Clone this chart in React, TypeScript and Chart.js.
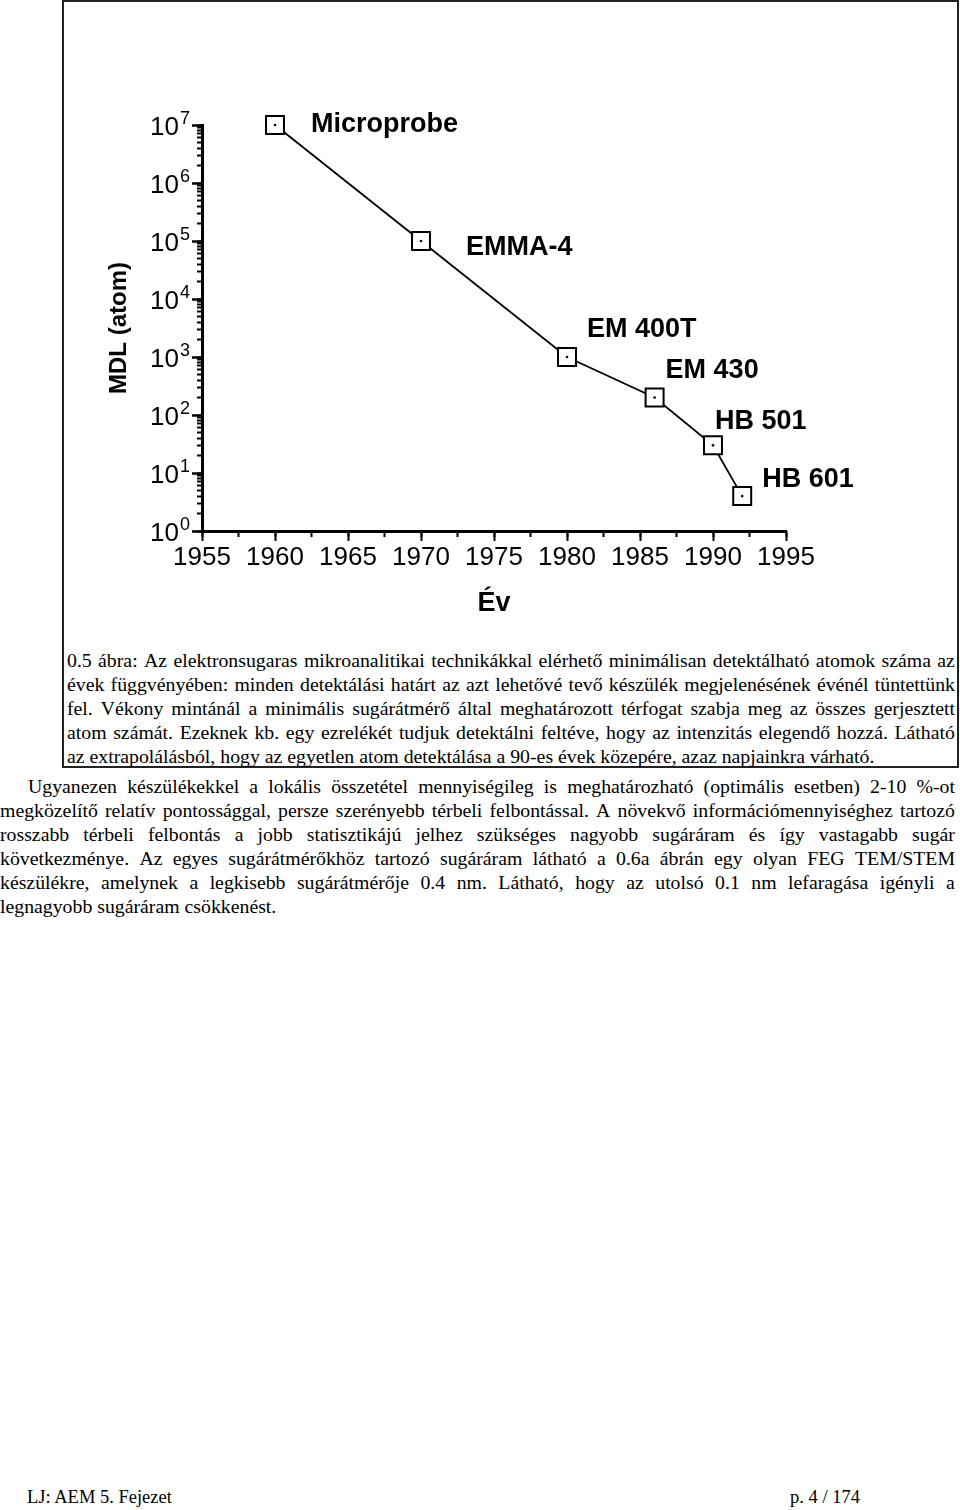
import React, { useEffect, useRef } from "react";
import { Chart, registerables } from "chart.js";

Chart.register(...registerables);

// ---------------- data ----------------
const instruments = ["Microprobe", "EMMA-4", "EM 400T", "EM 430", "HB 501", "HB 601"];
const introYears = [1960, 1970, 1980, 1986, 1990, 1992];
const mdlAtoms = [1e7, 1e5, 1e3, 200, 30, 4];
const xTickYears = [1955, 1960, 1965, 1970, 1975, 1980, 1985, 1990, 1995];
const yTickExponents = [0, 1, 2, 3, 4, 5, 6, 7];
const xAxisTitle = "Év";
const yAxisTitle = "MDL (atom)";

const captionLines = [
  "0.5 ábra: Az elektronsugaras mikroanalitikai technikákkal elérhető minimálisan detektálható atomok száma az",
  "évek függvényében: minden detektálási határt az azt lehetővé tevő készülék megjelenésének événél tüntettünk",
  "fel. Vékony mintánál a minimális sugárátmérő által meghatározott térfogat szabja meg az összes gerjesztett",
  "atom számát. Ezeknek kb. egy ezrelékét tudjuk detektálni feltéve, hogy az intenzitás elegendő hozzá. Látható",
  "az extrapolálásból, hogy az egyetlen atom detektálása a 90-es évek közepére, azaz napjainkra várható.",
];
const bodyLines = [
  "Ugyanezen készülékekkel a lokális összetétel mennyiségileg is meghatározható (optimális esetben) 2-10 %-ot",
  "megközelítő relatív pontossággal, persze szerényebb térbeli felbontással. A növekvő információmennyiséghez tartozó",
  "rosszabb térbeli felbontás a jobb statisztikájú jelhez szükséges nagyobb sugáráram és így vastagabb sugár",
  "következménye. Az egyes sugárátmérőkhöz tartozó sugáráram látható a 0.6a ábrán egy olyan FEG TEM/STEM",
  "készülékre, amelynek a legkisebb sugárátmérője 0.4 nm. Látható, hogy az utolsó 0.1 nm lefaragása igényli a",
  "legnagyobb sugáráram csökkenést.",
];
const footerLeft = "LJ: AEM 5. Fejezet";
const footerRight = "p. 4 / 174";

// label placement relative to each marker (pixels): [dx to text start, dy to baseline]
const LABEL_OFFSETS: [number, number][] = [
  [36, 7],
  [45, 14],
  [20, -20],
  [11, -20],
  [2, -16],
  [20, -9],
];

const SANS = "'Liberation Sans', Arial, Helvetica, sans-serif";
const SERIF = "'Liberation Serif', 'Times New Roman', serif";

function JustifiedLine({ text, justify, indent }: { text: string; justify: boolean; indent?: number }) {
  if (!justify) {
    return <div style={{ whiteSpace: "nowrap", paddingLeft: indent || 0 }}>{text}</div>;
  }
  const words = text.split(" ");
  return (
    <div style={{ display: "flex", justifyContent: "space-between", paddingLeft: indent || 0, whiteSpace: "nowrap" }}>
      {words.map((w, i) => (
        <span key={i}>{w}</span>
      ))}
    </div>
  );
}

export default function App() {
  const ref = useRef<HTMLCanvasElement>(null);

  useEffect(() => {
    const canvas = ref.current;
    if (!canvas) return;
    const points = introYears.map((x, i) => ({ x, y: mdlAtoms[i] }));
    const xMin = xTickYears[0];
    const xMax = xTickYears[xTickYears.length - 1];
    const yMin = Math.pow(10, yTickExponents[0]);
    const yMax = Math.pow(10, yTickExponents[yTickExponents.length - 1]);

    const xMinorTicks: number[] = [];
    xTickYears.forEach((v, i) => {
      xMinorTicks.push(v);
      if (i < xTickYears.length - 1) xMinorTicks.push((v + xTickYears[i + 1]) / 2);
    });
    const yMajorTicks = yTickExponents.map((e) => Math.pow(10, e));
    const yAllTicks: number[] = [];
    yTickExponents.forEach((e, i) => {
      const base = Math.pow(10, e);
      yAllTicks.push(base);
      if (i < yTickExponents.length - 1) for (let d = 2; d <= 9; d++) yAllTicks.push(d * base);
    });

    const decorPlugin = {
      id: "decor",
      afterDraw(chart: any) {
        const ctx = chart.ctx as CanvasRenderingContext2D;
        const ys = chart.scales.yMajor;
        const left = chart.chartArea.left;
        ctx.save();
        ctx.fillStyle = "#000";
        // y tick labels 10^n
        yTickExponents.forEach((e) => {
          const py = ys.getPixelForValue(Math.pow(10, e));
          ctx.font = `26px ${SANS}`;
          ctx.textAlign = "right";
          ctx.textBaseline = "alphabetic";
          ctx.fillText("10", left - 23, py + 10);
          ctx.font = `18px ${SANS}`;
          ctx.textAlign = "left";
          ctx.fillText(String(e), left - 22, py - 1);
        });
        // instrument labels
        const meta = chart.getDatasetMeta(0);
        ctx.font = `bold 27px ${SANS}`;
        ctx.textAlign = "left";
        ctx.textBaseline = "alphabetic";
        instruments.forEach((name, i) => {
          const el = meta.data[i];
          const [dx, dy] = LABEL_OFFSETS[i];
          ctx.fillText(name, el.x + dx, el.y + dy);
        });
        ctx.restore();
      },
    };

    const gridCommon = { display: true, drawOnChartArea: false, drawTicks: true, color: "#000", tickColor: "#000" };

    const chart = new Chart(canvas, {
      type: "line",
      data: {
        datasets: [
          {
            label: "MDL",
            data: points,
            borderColor: "#000",
            borderWidth: 1.8,
            pointStyle: "rect",
            pointRadius: 12.7,
            pointBorderWidth: 2,
            pointBorderColor: "#000",
            pointBackgroundColor: "#fff",
            tension: 0,
            fill: false,
            clip: false,
            order: 1,
          } as any,
          {
            label: "centre",
            data: points,
            showLine: false,
            pointStyle: "circle",
            pointRadius: 1.3,
            pointBorderWidth: 0,
            pointBackgroundColor: "#000",
            clip: false,
            order: 0,
          } as any,
        ],
      },
      options: {
        animation: false,
        responsive: false,
        events: [],
        layout: { padding: { left: 42, top: 125, right: 172, bottom: 20.3 } },
        plugins: { legend: { display: false }, tooltip: { enabled: false } },
        scales: {
          x: {
            type: "linear",
            position: "bottom",
            weight: 0,
            min: xMin,
            max: xMax,
            afterBuildTicks: (s: any) => {
              s.ticks = xMinorTicks.map((v) => ({ value: v }));
            },
            ticks: { display: false, autoSkip: false },
            grid: { ...gridCommon, tickLength: 6, tickWidth: 2 },
            border: { display: true, width: 3, color: "#000" },
            afterFit: (s: any) => {
              s.height = 0;
            },
          },
          xMajor: {
            type: "linear",
            position: "bottom",
            weight: 1,
            min: xMin,
            max: xMax,
            afterBuildTicks: (s: any) => {
              s.ticks = xTickYears.map((v) => ({ value: v }));
            },
            ticks: {
              display: true,
              autoSkip: false,
              maxRotation: 0,
              minRotation: 0,
              padding: 1,
              color: "#000",
              font: { family: SANS, size: 26 },
              callback: (v: any) => String(v),
            },
            grid: { ...gridCommon, tickLength: 10, tickWidth: 2 },
            border: { display: false },
            title: {
              display: true,
              text: xAxisTitle,
              color: "#000",
              font: { family: SANS, size: 27, weight: "bold" },
              padding: 0,
            },
            afterFit: (s: any) => {
              s.height = 88.7;
            },
          },
          y: {
            type: "logarithmic",
            position: "left",
            weight: 0,
            min: yMin,
            max: yMax,
            afterBuildTicks: (s: any) => {
              s.ticks = yAllTicks.map((v) => ({ value: v }));
            },
            ticks: { display: false, autoSkip: false },
            grid: { ...gridCommon, tickLength: 5, tickWidth: 2 },
            border: { display: true, width: 3, color: "#000" },
            afterFit: (s: any) => {
              s.width = 0;
            },
          },
          yMajor: {
            type: "logarithmic",
            position: "left",
            weight: 1,
            min: yMin,
            max: yMax,
            afterBuildTicks: (s: any) => {
              s.ticks = yMajorTicks.map((v) => ({ value: v, major: true }));
            },
            ticks: { display: false, autoSkip: false },
            grid: { ...gridCommon, tickLength: 10, tickWidth: 2.5 },
            border: { display: false },
            title: {
              display: true,
              text: yAxisTitle,
              color: "#000",
              font: { family: SANS, size: 24, weight: "bold" },
              padding: 0,
            },
            afterFit: (s: any) => {
              s.width = 97;
            },
          },
        },
      } as any,
      plugins: [decorPlugin],
    });
    return () => chart.destroy();
  }, []);

  return (
    <div
      style={{
        position: "absolute",
        left: 0,
        top: 0,
        width: 960,
        height: 1510,
        background: "#fff",
        color: "#000",
        fontFamily: SERIF,
        overflow: "hidden",
      }}
    >
      <div
        style={{
          position: "absolute",
          left: 62,
          top: 0,
          width: 897,
          height: 768,
          border: "2px solid #222",
          boxSizing: "border-box",
        }}
      />
      <canvas
        ref={ref}
        width={895}
        height={640}
        style={{ position: "absolute", left: 63, top: 0, width: 895, height: 640 }}
      />
      <div style={{ position: "absolute", left: 67, top: 648, width: 888, fontSize: 19.8, lineHeight: "24px" }}>
        {captionLines.map((t, i) => (
          <JustifiedLine key={i} text={t} justify={i < captionLines.length - 1} />
        ))}
      </div>
      <div style={{ position: "absolute", left: 0, top: 774, width: 955, fontSize: 19.8, lineHeight: "24px" }}>
        {bodyLines.map((t, i) => (
          <JustifiedLine key={i} text={t} justify={i < bodyLines.length - 1} indent={i === 0 ? 28 : 0} />
        ))}
      </div>
      <div style={{ position: "absolute", left: 27, top: 1485, fontSize: 18.5, lineHeight: "24px", whiteSpace: "nowrap" }}>
        {footerLeft}
      </div>
      <div style={{ position: "absolute", left: 790, top: 1485, fontSize: 18.5, lineHeight: "24px", whiteSpace: "nowrap" }}>
        {footerRight}
      </div>
    </div>
  );
}
